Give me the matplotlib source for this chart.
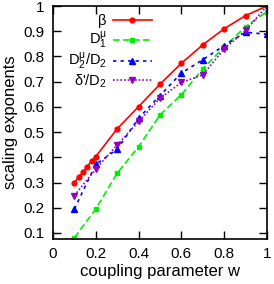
import matplotlib
matplotlib.use("Agg")
import matplotlib.pyplot as plt

plt.rcParams['font.family'] = ['Liberation Sans', 'DejaVu Sans']
plt.rcParams['mathtext.fontset'] = 'custom'
plt.rcParams['mathtext.rm'] = 'Liberation Sans'
plt.rcParams['mathtext.it'] = 'Liberation Sans'

w_beta = [0.1, 0.12, 0.14, 0.16, 0.18, 0.2, 0.3, 0.4, 0.5, 0.6, 0.7, 0.8, 0.9, 1.0]
beta = [0.30, 0.322, 0.341, 0.363, 0.386, 0.403, 0.513, 0.601, 0.690, 0.773, 0.846, 0.910, 0.962, 1.0]

w = [0.1, 0.2, 0.3, 0.4, 0.5, 0.6, 0.7, 0.8, 0.9, 1.0]
d1 = [0.081, 0.195, 0.337, 0.442, 0.568, 0.648, 0.751, 0.838, 0.918, 0.978]
d2 = [0.195, 0.372, 0.432, 0.555, 0.645, 0.734, 0.787, 0.843, 0.896, 0.888]
delta = [0.248, 0.354, 0.449, 0.542, 0.634, 0.697, 0.727, 0.830, 0.903, 1.0]

labels = [r'$\beta$', r'D$_1^\mu$', r'D$_2^\mu$/D$_2$', r"$\delta$'/D$_2$"]
xticks = [0, 0.2, 0.4, 0.6, 0.8, 1]
yticks = [0.1, 0.2, 0.3, 0.4, 0.5, 0.6, 0.7, 0.8, 0.9, 1]

fig = plt.figure(figsize=(2.74, 2.84), dpi=100)
ax = fig.add_axes([53/274, 1-239/284, (267-53)/274, (239-6)/284])

ax.plot(w_beta, beta, color='#ff0000', ls='-', lw=1.2, marker='o', ms=3.5, label=labels[0])
ax.plot(w, d1, color='#00ee00', ls=(0, (4, 2)), lw=1.2, marker='s', ms=3.5, label=labels[1])
ax.plot(w, d2, color='#0000ff', ls=(0, (2, 2.5)), lw=1.2, marker='^', ms=4, label=labels[2])
ax.plot(w, delta, color='#9400c8', ls=(0, (1, 1.2)), lw=1.2, marker='v', ms=4, label=labels[3])

ax.set_xlim(0, 1)
ax.set_ylim(0.076, 1)
ax.set_xticks(xticks)
ax.set_xticklabels(['0', '0.2', '0.4', '0.6', '0.8', '1'])
ax.set_yticks(yticks)
ax.set_yticklabels(['0.1', '0.2', '0.3', '0.4', '0.5', '0.6', '0.7', '0.8', '0.9', '1'])
ax.tick_params(direction='in', top=True, right=True, length=6, width=1, labelsize=11, pad=6)
for s in ax.spines.values():
    s.set_linewidth(1.2)
ax.set_xlabel('coupling parameter w', fontsize=12, labelpad=2)
ax.set_ylabel('scaling exponents', fontsize=12, labelpad=4)

ax.legend(loc='upper right', bbox_to_anchor=(0.463, 0.975), frameon=False, fontsize=10.5,
          markerfirst=False, handlelength=2.7, labelspacing=0.0, borderaxespad=0,
          borderpad=0, handletextpad=0.4)

fig.savefig('out.png', dpi=100)
